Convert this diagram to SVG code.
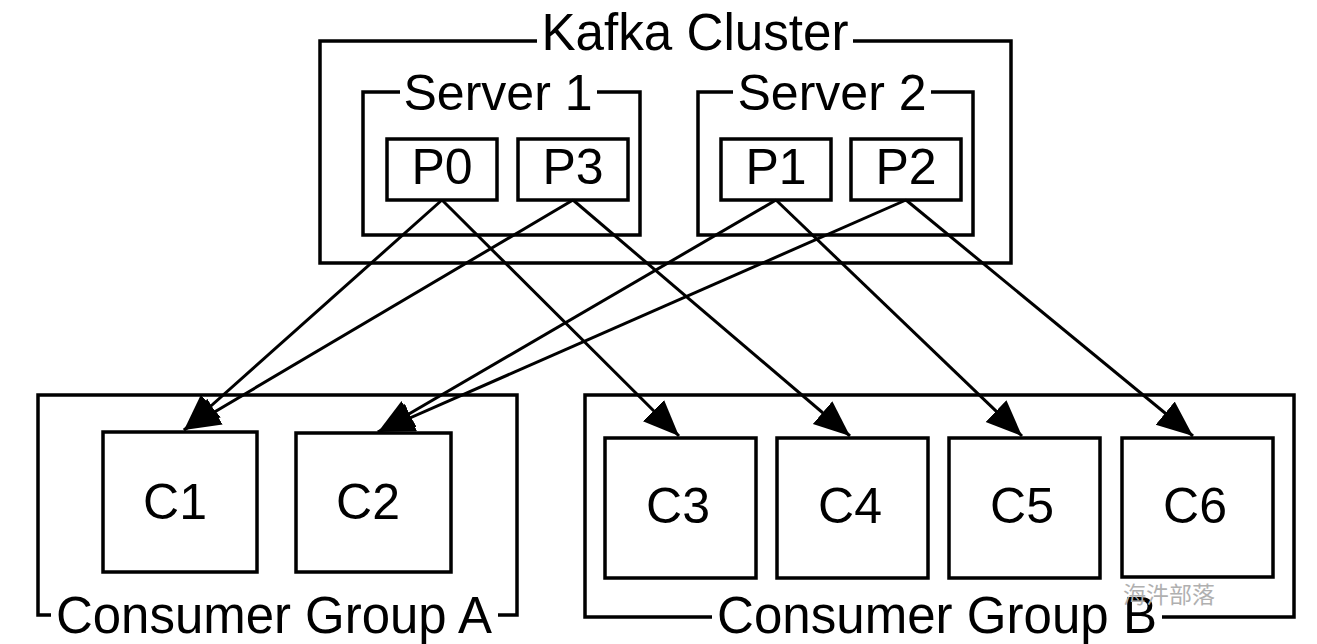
<svg xmlns="http://www.w3.org/2000/svg" width="1317" height="644" viewBox="0 0 1317 644">
  <defs>
    <style>
      .box { fill: none; stroke: #000; stroke-width: 3.5; }
      .lbl { font-family: "Liberation Sans", Arial, Helvetica, sans-serif; font-size: 50px; fill: #000; }
      .big { font-size: 51px; }
      .gap { fill: #fff; stroke: none; }
      .conn { stroke: #000; stroke-width: 3; fill: none; marker-end: url(#arrow); }
      .wm { font-family: "Noto Sans CJK SC", "Noto Sans CJK TC", serif; font-size: 23px; fill: #b0b0b0; }
    </style>
    <marker id="arrow" markerUnits="userSpaceOnUse" markerWidth="40" markerHeight="34" refX="36" refY="15" orient="auto">
      <path d="M0,0 L36,15 L0,30 z" fill="#000"/>
    </marker>
  </defs>
  <rect width="1317" height="644" fill="#fff"/>

  <g id="kafka-cluster">
    <rect class="box" x="320" y="41" width="691" height="222"/>
    <rect class="gap" x="537" y="32" width="316" height="18"/>
    <text class="lbl big" x="695" y="50" text-anchor="middle" textLength="307" lengthAdjust="spacingAndGlyphs">Kafka Cluster</text>
  </g>

  <g id="server1">
    <rect class="box" x="363" y="92" width="277" height="143"/>
    <rect class="gap" x="400" y="84" width="197" height="16"/>
    <text class="lbl" x="498" y="110" text-anchor="middle">Server 1</text>
  </g>

  <g id="server2">
    <rect class="box" x="698" y="92" width="275" height="143"/>
    <rect class="gap" x="733" y="84" width="198" height="16"/>
    <text class="lbl" x="832" y="110" text-anchor="middle">Server 2</text>
  </g>

  <g id="p0">
    <rect class="box" x="387" y="139" width="110" height="61"/>
    <text class="lbl" x="442" y="184" text-anchor="middle">P0</text>
  </g>
  <g id="p3">
    <rect class="box" x="518" y="139" width="110" height="61"/>
    <text class="lbl" x="573" y="184" text-anchor="middle">P3</text>
  </g>
  <g id="p1">
    <rect class="box" x="721" y="139" width="110" height="61"/>
    <text class="lbl" x="776" y="184" text-anchor="middle">P1</text>
  </g>
  <g id="p2">
    <rect class="box" x="851" y="139" width="110" height="61"/>
    <text class="lbl" x="906" y="184" text-anchor="middle">P2</text>
  </g>

  <g id="group-a">
    <rect class="box" x="38" y="395" width="479" height="220"/>
    <rect class="gap" x="51" y="606" width="447" height="18"/>
    <text class="lbl big" x="274" y="633" text-anchor="middle" textLength="436" lengthAdjust="spacingAndGlyphs">Consumer Group A</text>
  </g>

  <g id="group-b">
    <rect class="box" x="585" y="395" width="709" height="222"/>
    <rect class="gap" x="712" y="608" width="450" height="18"/>
    <text class="lbl big" x="937" y="633" text-anchor="middle" textLength="440" lengthAdjust="spacingAndGlyphs">Consumer Group B</text>
  </g>

  <g id="c1">
    <rect class="box" x="103" y="432" width="154" height="140"/>
    <text class="lbl" x="175" y="519" text-anchor="middle">C1</text>
  </g>
  <g id="c2">
    <rect class="box" x="296" y="433" width="155" height="139"/>
    <text class="lbl" x="368" y="519" text-anchor="middle">C2</text>
  </g>
  <g id="c3">
    <rect class="box" x="605" y="438" width="151" height="140"/>
    <text class="lbl" x="678" y="523" text-anchor="middle">C3</text>
  </g>
  <g id="c4">
    <rect class="box" x="777" y="438" width="151" height="140"/>
    <text class="lbl" x="850" y="523" text-anchor="middle">C4</text>
  </g>
  <g id="c5">
    <rect class="box" x="949" y="438" width="151" height="140"/>
    <text class="lbl" x="1022" y="523" text-anchor="middle">C5</text>
  </g>
  <g id="c6">
    <rect class="box" x="1122" y="438" width="151" height="139"/>
    <text class="lbl" x="1195" y="523" text-anchor="middle">C6</text>
  </g>

  <g id="connectors">
    <line class="conn" x1="442" y1="200" x2="184" y2="430"/>
    <line class="conn" x1="573" y1="200" x2="184" y2="430"/>
    <line class="conn" x1="776" y1="200" x2="378" y2="432"/>
    <line class="conn" x1="906" y1="200" x2="378" y2="432"/>
    <line class="conn" x1="442" y1="200" x2="679" y2="436"/>
    <line class="conn" x1="573" y1="200" x2="850" y2="436"/>
    <line class="conn" x1="776" y1="200" x2="1022" y2="436"/>
    <line class="conn" x1="906" y1="200" x2="1193" y2="436"/>
  </g>

  <text class="wm" x="1123" y="603">海汼部落</text>
</svg>
